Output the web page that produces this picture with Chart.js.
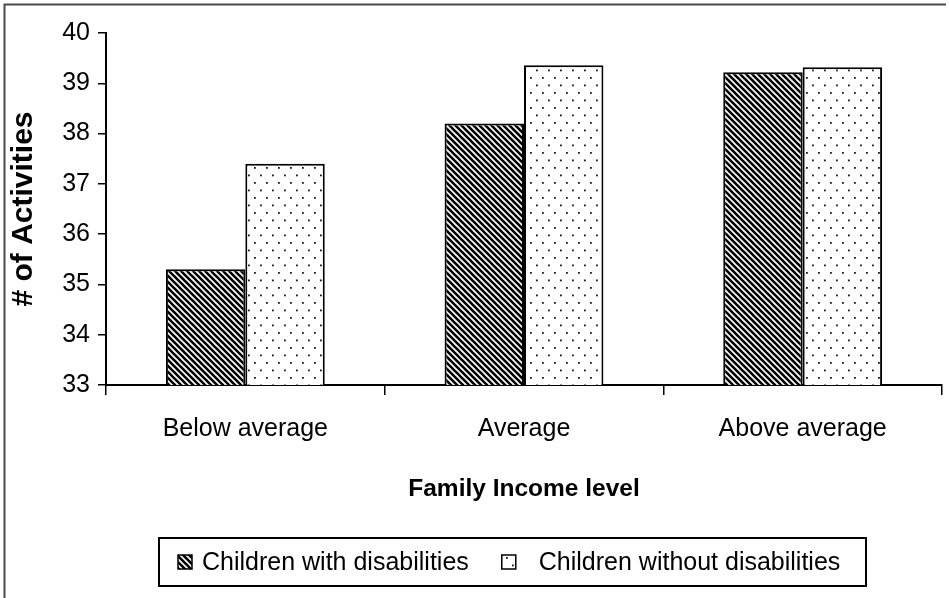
<!DOCTYPE html>
<html>
<head>
<meta charset="utf-8">
<title>Activities by family income level</title>
<script src="https://cdn.jsdelivr.net/npm/chart.js@4.4.1/dist/chart.umd.min.js"></script>
<style>
  html, body { margin: 0; padding: 0; background: #ffffff; }
  #wrap { width: 949px; height: 598px; }
</style>
</head>
<body>
<div id="wrap"><canvas id="chart" width="949" height="598"></canvas></div>
<script>
// Income groups on the x axis
const categories = ['Below average', 'Average', 'Above average'];
// Mean number of activities per group
const withDisabilities = [35.3, 38.2, 39.22];
const withoutDisabilities = [37.4, 39.36, 39.32];
// Value axis range and tick step
const yMin = 33;
const yMax = 40;
const yStep = 1;

const FONT = '"Liberation Sans", Arial, Helvetica, sans-serif';

// Diagonal hatch fill, black stripes running top-left to bottom-right
function hatchPattern() {
  const c = document.createElement('canvas');
  c.width = 6; c.height = 6;
  const g = c.getContext('2d');
  g.fillStyle = '#ffffff';
  g.fillRect(0, 0, 6, 6);
  g.strokeStyle = '#000000';
  g.lineWidth = 2.6;
  g.beginPath();
  g.moveTo(-3, -3); g.lineTo(9, 9);
  g.moveTo(-3, 3); g.lineTo(3, 9);
  g.moveTo(3, -3); g.lineTo(9, 3);
  g.stroke();
  return g.createPattern(c, 'repeat');
}

// Sparse staggered dot fill
function dotPattern() {
  const c = document.createElement('canvas');
  c.width = 12; c.height = 15;
  const g = c.getContext('2d');
  g.fillStyle = '#ffffff';
  g.fillRect(0, 0, 12, 15);
  g.fillStyle = '#1a1a1a';
  g.fillRect(2, 2, 1.8, 1.8);
  g.fillRect(8, 9.5, 1.8, 1.8);
  return g.createPattern(c, 'repeat');
}

const hatch = hatchPattern();
const dots = dotPattern();

// White page background plus the thin frame along the top and left edges
const framePlugin = {
  id: 'frame',
  beforeDraw(chart) {
    const ctx = chart.ctx;
    ctx.save();
    ctx.fillStyle = '#ffffff';
    ctx.fillRect(0, 0, chart.width, chart.height);
    ctx.strokeStyle = '#4a4a4a';
    ctx.lineWidth = 2;
    ctx.beginPath();
    ctx.moveTo(4.5, chart.height);
    ctx.lineTo(4.5, 4.5);
    ctx.lineTo(946, 4.5);
    ctx.stroke();
    ctx.restore();
  }
};

// Boxed legend under the axis title, built from the dataset labels and fills
const boxedLegend = {
  id: 'boxedLegend',
  afterDraw(chart) {
    const ctx = chart.ctx;
    const sets = chart.data.datasets;
    const box = { left: 159, top: 538, right: 866, bottom: 586 };
    const swatch = 14;
    const cy = (box.top + box.bottom) / 2;
    ctx.save();
    ctx.font = '25px ' + FONT;
    ctx.textBaseline = 'middle';
    ctx.textAlign = 'left';
    ctx.strokeStyle = '#000000';
    ctx.lineWidth = 2;
    ctx.strokeRect(box.left, box.top, box.right - box.left, box.bottom - box.top);
    const gaps = [10, 23];
    let x = 178;
    sets.forEach((ds, i) => {
      ctx.fillStyle = ds.backgroundColor;
      ctx.fillRect(x, cy - swatch / 2, swatch, swatch);
      ctx.lineWidth = 1.5;
      ctx.strokeRect(x, cy - swatch / 2, swatch, swatch);
      x += swatch + gaps[i];
      ctx.fillStyle = '#000000';
      ctx.fillText(ds.label, x, cy + 1);
      x += ctx.measureText(ds.label).width + 33;
    });
    ctx.restore();
  }
};

new Chart(document.getElementById('chart'), {
  type: 'bar',
  data: {
    labels: categories,
    datasets: [
      {
        label: 'Children with disabilities',
        data: withDisabilities,
        backgroundColor: hatch,
        borderColor: '#000000',
        borderWidth: 2
      },
      {
        label: 'Children without disabilities',
        data: withoutDisabilities,
        backgroundColor: dots,
        borderColor: '#000000',
        borderWidth: 2
      }
    ]
  },
  options: {
    responsive: false,
    animation: false,
    devicePixelRatio: 1,
    layout: { padding: { left: 0, top: 33, right: 7, bottom: 93 } },
    datasets: {
      bar: { categoryPercentage: 0.57, barPercentage: 1.0 }
    },
    plugins: {
      legend: { display: false },
      tooltip: { enabled: false },
      title: { display: false }
    },
    scales: {
      x: {
        afterFit(scale) { scale.height = 120; },
        border: { color: '#000000', width: 2 },
        grid: {
          offset: true,
          drawOnChartArea: false,
          drawTicks: true,
          tickLength: 10,
          color: '#000000',
          lineWidth: 1.5
        },
        ticks: {
          color: '#000000',
          padding: 19,
          font: { family: FONT, size: 25 }
        },
        title: {
          display: true,
          text: 'Family Income level',
          color: '#000000',
          padding: { top: 0, bottom: 1 },
          font: { family: FONT, size: 24.5, weight: 'bold' }
        }
      },
      y: {
        min: yMin,
        max: yMax,
        afterFit(scale) { scale.width = 106; },
        border: { color: '#000000', width: 2 },
        grid: {
          drawOnChartArea: false,
          drawTicks: true,
          tickLength: 8,
          color: '#000000',
          lineWidth: 1.5
        },
        ticks: {
          stepSize: yStep,
          color: '#000000',
          padding: 8,
          font: { family: FONT, size: 25 }
        },
        title: {
          display: true,
          text: '# of Activities',
          color: '#000000',
          padding: { top: 6, bottom: 0 },
          font: { family: FONT, size: 30, weight: 'bold' }
        }
      }
    }
  },
  plugins: [framePlugin, boxedLegend]
});
</script>
</body>
</html>
